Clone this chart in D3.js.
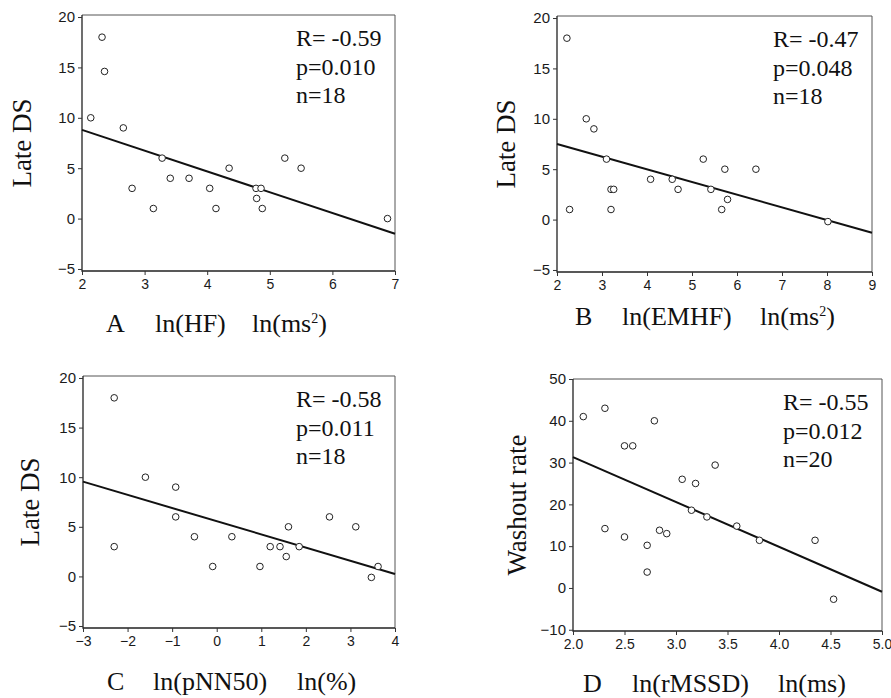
<!DOCTYPE html>
<html>
<head>
<meta charset="utf-8">
<script src="https://cdn.jsdelivr.net/npm/d3@7"></script>
<style>
  body { margin: 0; background: #fff; }
  svg { display: block; }
  .serif { font-family: "Liberation Serif", "Times New Roman", serif; fill: #111; }
</style>
</head>
<body>
<svg id="chart" width="891" height="698"></svg>
<script>
// panel A: ln(HF) vs Late DS
const aX = [2.14, 2.32, 2.36, 2.66, 2.80, 3.14, 3.28, 3.41, 3.71, 4.04, 4.14, 4.35, 4.78, 4.86, 4.79, 4.88, 5.24, 5.50, 6.88];
const aY = [10, 18, 14.6, 9, 3, 1, 6, 4, 4, 3, 1, 5, 3, 3, 2, 1, 6, 5, 0];
const aFit = [[2, 8.8], [7, -1.5]];
const aStats = ["R= -0.59", "p=0.010", "n=18"];

// panel B: ln(EMHF) vs Late DS
const bX = [2.22, 2.28, 2.65, 2.82, 3.10, 3.20, 3.26, 3.20, 4.08, 4.56, 4.69, 5.25, 5.42, 5.73, 5.66, 5.79, 6.42, 8.02];
const bY = [18, 1, 10, 9, 6, 3, 3, 1, 4, 4, 3, 6, 3, 5, 1, 2, 5, -0.2];
const bFit = [[2, 7.5], [9, -1.3]];
const bStats = ["R= -0.47", "p=0.048", "n=18"];

// panel C: ln(pNN50) vs Late DS
const cX = [-2.30, -2.30, -1.60, -0.92, -0.92, -0.50, -0.09, 0.34, 0.97, 1.20, 1.42, 1.61, 1.56, 1.85, 2.53, 3.12, 3.47, 3.62];
const cY = [18, 3, 10, 9, 6, 4, 1, 4, 1, 3, 3, 5, 2, 3, 6, 5, -0.1, 1];
const cFit = [[-3, 9.55], [4, 0.25]];
const cStats = ["R= -0.58", "p=0.011", "n=18"];

// panel D: ln(rMSSD) vs Washout rate
const dX = [2.10, 2.31, 2.31, 2.50, 2.58, 2.50, 2.79, 2.72, 2.72, 2.84, 2.91, 3.06, 3.19, 3.38, 3.15, 3.30, 3.59, 3.81, 4.35, 4.53];
const dY = [41, 43, 14.2, 34, 34, 12.2, 40, 10.2, 3.8, 13.8, 13, 26, 25, 29.4, 18.6, 17, 14.8, 11.4, 11.4, -2.7];
const dFit = [[2.0, 31.3], [5.0, -0.9]];
const dStats = ["R= -0.55", "p=0.012", "n=20"];

const svg = d3.select("#chart");

function drawPanel(cfg) {
  const g = svg.append("g");
  const x = d3.scaleLinear().domain(cfg.xDomain).range([cfg.left, cfg.right]);
  const y = d3.scaleLinear().domain(cfg.yDomain).range([cfg.bottom, cfg.top]);

  // frame: top/right lighter, left/bottom darker like the scan
  g.append("path")
   .attr("d", `M${cfg.left},${cfg.top}H${cfg.right}V${cfg.bottom}`)
   .attr("fill", "none").attr("stroke", "#555").attr("stroke-width", 1);
  g.append("path")
   .attr("d", `M${cfg.left},${cfg.top}V${cfg.bottom}H${cfg.right}`)
   .attr("fill", "none").attr("stroke", "#222").attr("stroke-width", 1.3);

  const xAxis = d3.axisBottom(x).tickValues(cfg.xTicks).tickSize(4).tickPadding(4).tickSizeOuter(0)
    .tickFormat(d3.format(cfg.xFormat || "d"));
  g.append("g").attr("transform", `translate(0,${cfg.bottom})`).call(xAxis)
   .call(s => s.select(".domain").remove())
   .call(s => s.selectAll("text")
     .style("font-family", "'Liberation Sans', Arial, sans-serif")
     .style("font-size", "14px").style("fill", "#1a1a1a"));

  const yAxis = d3.axisLeft(y).tickValues(cfg.yTicks).tickSize(4).tickPadding(3).tickSizeOuter(0)
    .tickFormat(d3.format("d"));
  g.append("g").attr("transform", `translate(${cfg.left},0)`).call(yAxis)
   .call(s => s.select(".domain").remove())
   .call(s => s.selectAll("text")
     .style("font-family", "'Liberation Sans', Arial, sans-serif")
     .style("font-size", "15px").style("fill", "#1a1a1a"));

  g.selectAll(".tick line").attr("stroke", "#333");

  // fit line
  g.append("line")
   .attr("x1", x(cfg.fit[0][0])).attr("y1", y(cfg.fit[0][1]))
   .attr("x2", x(cfg.fit[1][0])).attr("y2", y(cfg.fit[1][1]))
   .attr("stroke", "#111").attr("stroke-width", 2);

  // points
  g.selectAll("circle.pt")
   .data(cfg.xs.map((v, i) => [v, cfg.ys[i]]))
   .enter().append("circle")
   .attr("class", "pt")
   .attr("cx", d => x(d[0])).attr("cy", d => y(d[1]))
   .attr("r", 3.3)
   .attr("fill", "#fff").attr("stroke", "#222").attr("stroke-width", 1);

  // stats
  cfg.stats.forEach((t, i) => {
    g.append("text").attr("class", "serif")
     .attr("x", cfg.right - 99).attr("y", cfg.top + 31 + i * 28.5)
     .attr("font-size", 24).text(t);
  });

  // y title
  g.append("text").attr("class", "serif")
   .attr("transform", `translate(${cfg.yTitleX},${(cfg.top + cfg.bottom) / 2}) rotate(-90)`)
   .attr("text-anchor", "middle").attr("font-size", 27)
   .text(cfg.yTitle);

  // x title pieces
  cfg.xTitle.forEach(p => {
    const t = g.append("text").attr("class", "serif")
     .attr("x", cfg.left + p[0]).attr("y", cfg.xTitleY).attr("font-size", 26);
    if (p[1].endsWith("²)")) {
      t.append("tspan").text(p[1].slice(0, -2));
      t.append("tspan").attr("font-size", 14).attr("dy", -9).text("2");
      t.append("tspan").attr("dy", 9).text(")");
    } else {
      t.text(p[1]);
    }
  });
}

drawPanel({
  xs: aX, ys: aY, fit: aFit, stats: aStats,
  left: 82, right: 395, top: 15, bottom: 271,
  xDomain: [2, 7], xTicks: [2, 3, 4, 5, 6, 7],
  yDomain: [-5.2, 20.2], yTicks: [-5, 0, 5, 10, 15, 20],
  yTitle: "Late DS", yTitleX: 31,
  xTitle: [[24, "A"], [73, "ln(HF)"], [170, "ln(ms²)"]], xTitleY: 332
});

drawPanel({
  xs: bX, ys: bY, fit: bFit, stats: bStats,
  left: 557, right: 872, top: 16, bottom: 272,
  xDomain: [2, 9], xTicks: [2, 3, 4, 5, 6, 7, 8, 9],
  yDomain: [-5.2, 20.2], yTicks: [-5, 0, 5, 10, 15, 20],
  yTitle: "Late DS", yTitleX: 515,
  xTitle: [[18, "B"], [65, "ln(EMHF)"], [203, "ln(ms²)"]], xTitleY: 325
});

drawPanel({
  xs: cX, ys: cY, fit: cFit, stats: cStats,
  left: 83, right: 395, top: 376, bottom: 628,
  xDomain: [-3, 4], xTicks: [-3, -2, -1, 0, 1, 2, 3, 4],
  yDomain: [-5.2, 20.2], yTicks: [-5, 0, 5, 10, 15, 20],
  yTitle: "Late DS", yTitleX: 39,
  xTitle: [[24, "C"], [70, "ln(pNN50)"], [214, "ln(%)"]], xTitleY: 690
});

drawPanel({
  xs: dX, ys: dY, fit: dFit, stats: dStats,
  left: 573, right: 882, top: 379, bottom: 631,
  xDomain: [2, 5], xTicks: [2, 2.5, 3, 3.5, 4, 4.5, 5], xFormat: ".1f",
  yDomain: [-10.3, 50], yTicks: [-10, 0, 10, 20, 30, 40, 50],
  yTitle: "Washout rate", yTitleX: 526,
  xTitle: [[10, "D"], [59, "ln(rMSSD)"], [205, "ln(ms)"]], xTitleY: 692
});
</script>
</body>
</html>
